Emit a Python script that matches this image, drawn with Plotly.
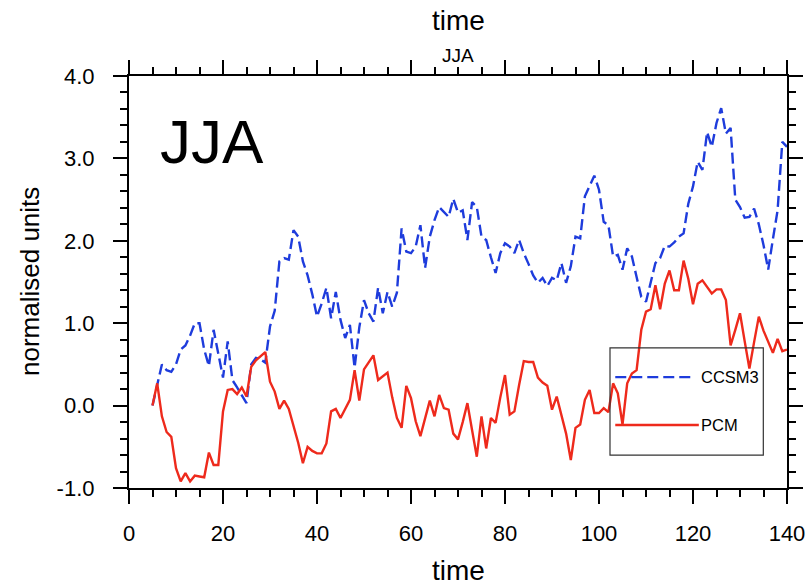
import plotly.graph_objects as go

years = list(range(5, 141))

ccsm3 = [0.00, 0.25, 0.50, 0.43, 0.41, 0.50, 0.68, 0.73, 0.85, 1.00,
         1.00, 0.68, 0.48, 0.92, 0.62, 0.34, 0.78, 0.31, 0.22, 0.12,
         0.03, 0.50, 0.58, 0.56, 0.52, 0.96, 1.15, 1.75, 1.79, 1.77,
         2.13, 2.05, 1.75, 1.58, 1.35, 1.08, 1.24, 1.43, 1.06, 1.38,
         1.04, 0.82, 0.98, 0.46, 0.95, 1.28, 1.12, 1.02, 1.43, 1.12,
         1.38, 1.20, 1.37, 2.15, 1.87, 1.85, 1.93, 2.19, 1.67, 2.05,
         2.25, 2.41, 2.35, 2.29, 2.51, 2.34, 2.37, 2.01, 2.47, 2.41,
         2.05, 2.01, 1.80, 1.61, 1.85, 1.97, 1.93, 1.85, 2.01, 1.85,
         1.72, 1.58, 1.49, 1.55, 1.45, 1.55, 1.52, 1.73, 1.49, 1.69,
         2.05, 2.03, 2.54, 2.66, 2.79, 2.62, 2.23, 2.19, 1.81, 1.83,
         1.65, 1.91, 1.81, 1.56, 1.32, 1.26, 1.49, 1.73, 1.79, 1.94,
         1.93, 1.98, 2.05, 2.09, 2.45, 2.66, 2.96, 2.86, 3.32, 3.14,
         3.43, 3.61, 3.30, 3.37, 2.50, 2.41, 2.28, 2.29, 2.39, 2.20,
         1.95, 1.65, 2.02, 2.37, 3.20, 3.14]

pcm = [0.00, 0.27, -0.13, -0.32, -0.38, -0.76, -0.92, -0.82, -0.92, -0.85,
       -0.86, -0.87, -0.57, -0.72, -0.72, -0.07, 0.19, 0.20, 0.14, 0.22,
       0.11, 0.47, 0.55, 0.60, 0.65, 0.29, 0.17, -0.04, 0.06, -0.04,
       -0.25, -0.45, -0.70, -0.50, -0.55, -0.58, -0.58, -0.46, -0.07, -0.04,
       -0.15, -0.04, 0.07, 0.43, 0.06, 0.44, 0.52, 0.61, 0.31, 0.35,
       0.40, 0.10, -0.15, -0.27, 0.24, 0.09, -0.19, -0.37, -0.15, 0.06,
       -0.13, 0.13, -0.03, -0.05, -0.34, -0.41, -0.20, 0.03, -0.30, -0.62,
       -0.13, -0.52, -0.15, -0.21, 0.10, 0.37, -0.11, -0.07, 0.25, 0.54,
       0.53, 0.53, 0.34, 0.28, 0.24, -0.05, 0.11, -0.12, -0.34, -0.66,
       -0.27, -0.23, 0.07, 0.19, -0.09, -0.09, -0.03, -0.08, 0.27, 0.15,
       -0.23, 0.27, 0.39, 0.43, 0.92, 1.14, 1.17, 1.46, 1.17, 1.48,
       1.64, 1.40, 1.40, 1.76, 1.54, 1.23, 1.48, 1.52, 1.44, 1.36,
       1.41, 1.41, 1.28, 0.73, 0.92, 1.12, 0.78, 0.45, 0.77, 1.08,
       0.91, 0.78, 0.64, 0.81, 0.66, 0.68]

x_ticks = [0, 20, 40, 60, 80, 100, 120, 140]
y_ticks = [-1.0, 0.0, 1.0, 2.0, 3.0, 4.0]
y_tick_labels = ["-1.0", "0.0", "1.0", "2.0", "3.0", "4.0"]

BLUE = "#1e3cdc"
RED = "#ee2a1c"
FONT = "Liberation Sans"

fig = go.Figure()
fig.add_trace(go.Scatter(x=years, y=ccsm3, mode="lines", name="CCSM3",
                         line=dict(color=BLUE, width=2.4, dash="11px,5px")))
fig.add_trace(go.Scatter(x=years, y=pcm, mode="lines", name="PCM",
                         line=dict(color=RED, width=2.4)))

axis_common = dict(
    showline=True, linecolor="black", linewidth=2.2, mirror="ticks",
    ticks="outside", tickcolor="black", tickwidth=2, ticklen=14,
    showgrid=False, zeroline=False, automargin=False,
    ticklabeloverflow="allow",
    tickfont=dict(family=FONT, size=22, color="black"),
)

fig.update_xaxes(range=[0, 140], tickvals=x_ticks, ticklabelstandoff=10,
                 minor=dict(dtick=5, ticks="outside", ticklen=7, tickwidth=1.5, tickcolor="black"),
                 **axis_common)
fig.update_yaxes(range=[-1, 4], tickvals=y_ticks, ticktext=y_tick_labels, ticklabelstandoff=14,
                 minor=dict(dtick=0.2, ticks="outside", ticklen=7, tickwidth=1.5, tickcolor="black"),
                 **axis_common)

# axis titles
fig.add_annotation(xref="x domain", yref="y domain", x=0.5, y=0, yshift=-82,
                   text="time", showarrow=False, xanchor="center", yanchor="middle",
                   font=dict(family=FONT, size=28, color="black"))
fig.add_annotation(xref="x domain", yref="y domain", x=0, y=0.5, xshift=-99,
                   text="normalised units", showarrow=False, textangle=-90,
                   xanchor="center", yanchor="middle",
                   font=dict(family=FONT, size=26, color="black"))

# legend box drawn in axis-domain coordinates
fig.add_shape(type="rect", xref="x domain", yref="y domain",
              x0=0.731, x1=0.964, y0=0.080, y1=0.340,
              line=dict(color="#333333", width=1.2), fillcolor="rgba(0,0,0,0)")
fig.add_shape(type="line", xref="x domain", yref="y domain",
              x0=0.739, x1=0.860, y0=0.269, y1=0.269,
              line=dict(color=BLUE, width=2.4, dash="11px,5px"))
fig.add_shape(type="line", xref="x domain", yref="y domain",
              x0=0.739, x1=0.866, y0=0.153, y1=0.153,
              line=dict(color=RED, width=2.4))
fig.add_annotation(xref="x domain", yref="y domain", x=0.866, y=0.269,
                   text="CCSM3", showarrow=False, xanchor="left", yanchor="middle",
                   font=dict(family=FONT, size=16.5, color="black"))
fig.add_annotation(xref="x domain", yref="y domain", x=0.866, y=0.153,
                   text="PCM", showarrow=False, xanchor="left", yanchor="middle",
                   font=dict(family=FONT, size=16.5, color="black"))

# big in-plot label
fig.add_annotation(xref="x domain", yref="y domain", x=0.044, y=0.84,
                   text="JJA", showarrow=False, xanchor="left", yanchor="middle",
                   font=dict(family=FONT, size=62, color="black"))

# top titles
fig.add_annotation(xref="x domain", yref="y domain", x=0.5, y=1.0, yshift=56,
                   text="time", showarrow=False, xanchor="center", yanchor="middle",
                   font=dict(family=FONT, size=28, color="black"))
fig.add_annotation(xref="x domain", yref="y domain", x=0.5, y=1.0, yshift=21,
                   text="JJA", showarrow=False, xanchor="center", yanchor="middle",
                   font=dict(family=FONT, size=19, color="black"))

fig.update_layout(
    width=805, height=587,
    margin=dict(l=129, r=18, t=76, b=99),
    paper_bgcolor="white", plot_bgcolor="white",
    showlegend=False,
)

fig.write_html("out.html")
